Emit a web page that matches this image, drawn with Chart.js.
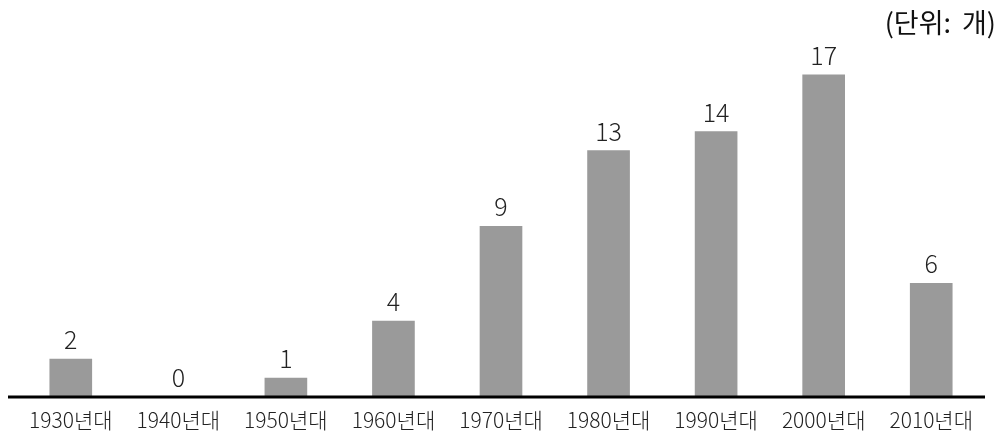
<!DOCTYPE html>
<html>
<head>
<meta charset="utf-8">
<script src="https://cdn.jsdelivr.net/npm/chart.js@4/dist/chart.umd.min.js"></script>
<style>
  html, body { margin: 0; padding: 0; background: #fff; }
  #wrap { position: relative; width: 1000px; height: 439px; }
  #unit { position: absolute; right: 4px; top: 8px; line-height: 27px; font-family: "Noto Sans CJK KR", sans-serif; font-size: 27px; color: #111; font-weight: 400; word-spacing: 5px; white-space: nowrap; }
</style>
</head>
<body>
<div id="wrap">
  <canvas id="c" width="1000" height="439"></canvas>
  <div id="unit">(단위: 개)</div>
</div>
<script>
// Number of items by decade
const decades = ['1930년대', '1940년대', '1950년대', '1960년대', '1970년대', '1980년대', '1990년대', '2000년대', '2010년대'];
const counts = [2, 0, 1, 4, 9, 13, 14, 17, 6];
const yMax = 20;

const FONT = '"Noto Sans CJK KR", "Noto Sans", sans-serif';

// Value labels above each bar
const valueLabels = {
  id: 'valueLabels',
  afterDatasetsDraw(chart) {
    const ctx = chart.ctx;
    const meta = chart.getDatasetMeta(0);
    ctx.save();
    ctx.font = '300 25px ' + FONT;
    ctx.fillStyle = '#222';
    ctx.textAlign = 'center';
    ctx.textBaseline = 'alphabetic';
    meta.data.forEach((bar, i) => {
      ctx.fillText(String(counts[i]), bar.x, bar.y - 10);
    });
    ctx.restore();
  }
};

// Black baseline under the bars
const baseline = {
  id: 'baseline',
  afterDatasetsDraw(chart) {
    const ctx = chart.ctx;
    const y = chart.scales.y.getPixelForValue(0);
    ctx.save();
    ctx.strokeStyle = '#000';
    ctx.lineWidth = 3;
    ctx.beginPath();
    ctx.moveTo(8, y);
    ctx.lineTo(chart.chartArea.right, y);
    ctx.stroke();
    ctx.restore();
  }
};

new Chart(document.getElementById('c'), {
  type: 'bar',
  data: {
    labels: decades,
    datasets: [{
      data: counts,
      backgroundColor: '#9a9a9a',
      borderWidth: 0,
      barThickness: 42
    }]
  },
  options: {
    responsive: false,
    animation: false,
    layout: { padding: { left: 17, right: 15, top: 18, bottom: 0 } },
    plugins: { legend: { display: false }, tooltip: { enabled: false } },
    scales: {
      x: {
        grid: { display: false, drawTicks: false },
        border: { display: false },
        ticks: { color: '#222', font: { family: FONT, size: 21, weight: 300 }, padding: 10, maxRotation: 0, autoSkip: false },
        afterFit(scale) { scale.height = 42; }
      },
      y: {
        display: false,
        min: 0,
        max: yMax
      }
    }
  },
  plugins: [valueLabels, baseline]
});
</script>
</body>
</html>
